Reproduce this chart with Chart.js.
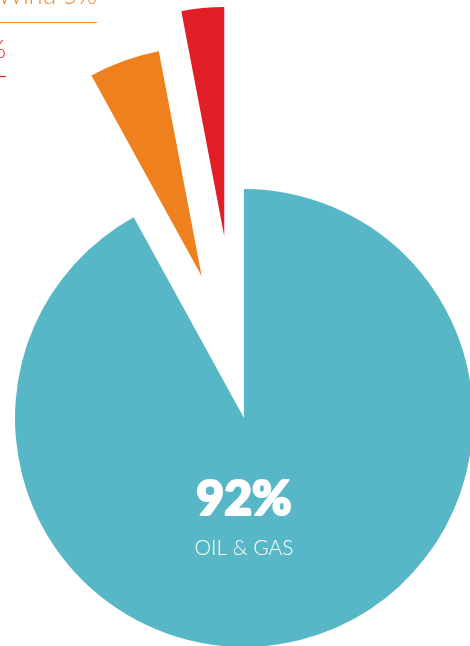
<!DOCTYPE html>
<html>
<head>
<meta charset="utf-8">
<script src="https://cdn.jsdelivr.net/npm/chart.js@4"></script>
<style>
  html, body { margin: 0; padding: 0; background: #ffffff; overflow: hidden; }
  #frame { position: relative; width: 470px; height: 646px; overflow: hidden; }
  #wrap { position: absolute; left: 0; top: 0; width: 488px; height: 836px; }
</style>
</head>
<body>
<div id="frame"><div id="wrap"><canvas id="c"></canvas></div></div>
<script>
// Energy mix shares (percent)
const categories = ['Oil & Gas', 'Wind', 'Solar'];
const shares = [92, 5, 3];
const sliceColors = ['#58B7C6', '#EE801E', '#E11D26'];
const labelColors = ['#ffffff', '#F0892C', '#E3242B'];
// exploded wedges: distance (px) and compass heading (deg, clockwise from 12 o'clock)
const pullDistance = [0, 148, 183];
const pullHeading = [0, 343.4, 353.8];
const pieRadius = 229;

// move each wedge's apex away from the pie centre
const explodeWedges = {
  id: 'explodeWedges',
  beforeDatasetsDraw(chart) {
    const a = chart.chartArea;
    const cx = (a.left + a.right) / 2, cy = (a.top + a.bottom) / 2;
    chart.getDatasetMeta(0).data.forEach((arc, i) => {
      const h = pullHeading[i] * Math.PI / 180;
      arc.x = cx + pullDistance[i] * Math.sin(h);
      arc.y = cy - pullDistance[i] * Math.cos(h);
    });
  }
};

const labelsPlugin = {
  id: 'sliceLabels',
  afterDatasetsDraw(chart) {
    const ctx = chart.ctx;
    const a = chart.chartArea;
    const cx = (a.left + a.right) / 2, cy = (a.top + a.bottom) / 2;
    ctx.save();
    ctx.textAlign = 'center';
    ctx.textBaseline = 'alphabetic';
    ctx.fillStyle = labelColors[0];
    ctx.strokeStyle = labelColors[0];
    ctx.lineJoin = 'round';
    ctx.lineWidth = 2.2;
    ctx.font = '900 48px Lato, "DejaVu Sans", sans-serif';
    ctx.fillText(shares[0] + '%', cx, cy + 97);
    ctx.strokeText(shares[0] + '%', cx, cy + 97);
    ctx.font = '300 21px Lato, "DejaVu Sans", sans-serif';
    ctx.fillText(categories[0].toUpperCase(), cx, cy + 137);

    // callouts for the small wedges, anchored at the left edge
    const callouts = [
      { i: 1, right: 97, base: 4, line: 22 },
      { i: 2, right: 6, base: 58, line: 76 }
    ];
    ctx.textAlign = 'right';
    ctx.font = '300 25px Lato, "DejaVu Sans", sans-serif';
    callouts.forEach(c => {
      ctx.fillStyle = labelColors[c.i];
      ctx.fillText(categories[c.i] + ' ' + shares[c.i] + '%', c.right, c.base);
      ctx.strokeStyle = labelColors[c.i];
      ctx.lineWidth = 1.2;
      ctx.beginPath();
      ctx.moveTo(0, c.line + 0.5);
      ctx.lineTo(c.right, c.line + 0.5);
      ctx.stroke();
    });
    ctx.restore();
  }
};

new Chart(document.getElementById('c'), {
  type: 'pie',
  data: {
    labels: categories,
    datasets: [{
      data: shares,
      backgroundColor: sliceColors,
      borderWidth: 0,
      clip: false
    }]
  },
  options: {
    responsive: true,
    maintainAspectRatio: false,
    animation: false,
    events: [],
    radius: pieRadius,
    layout: { padding: 0 },
    plugins: { legend: { display: false }, tooltip: { enabled: false } }
  },
  plugins: [explodeWedges, labelsPlugin]
});
</script>
</body>
</html>
